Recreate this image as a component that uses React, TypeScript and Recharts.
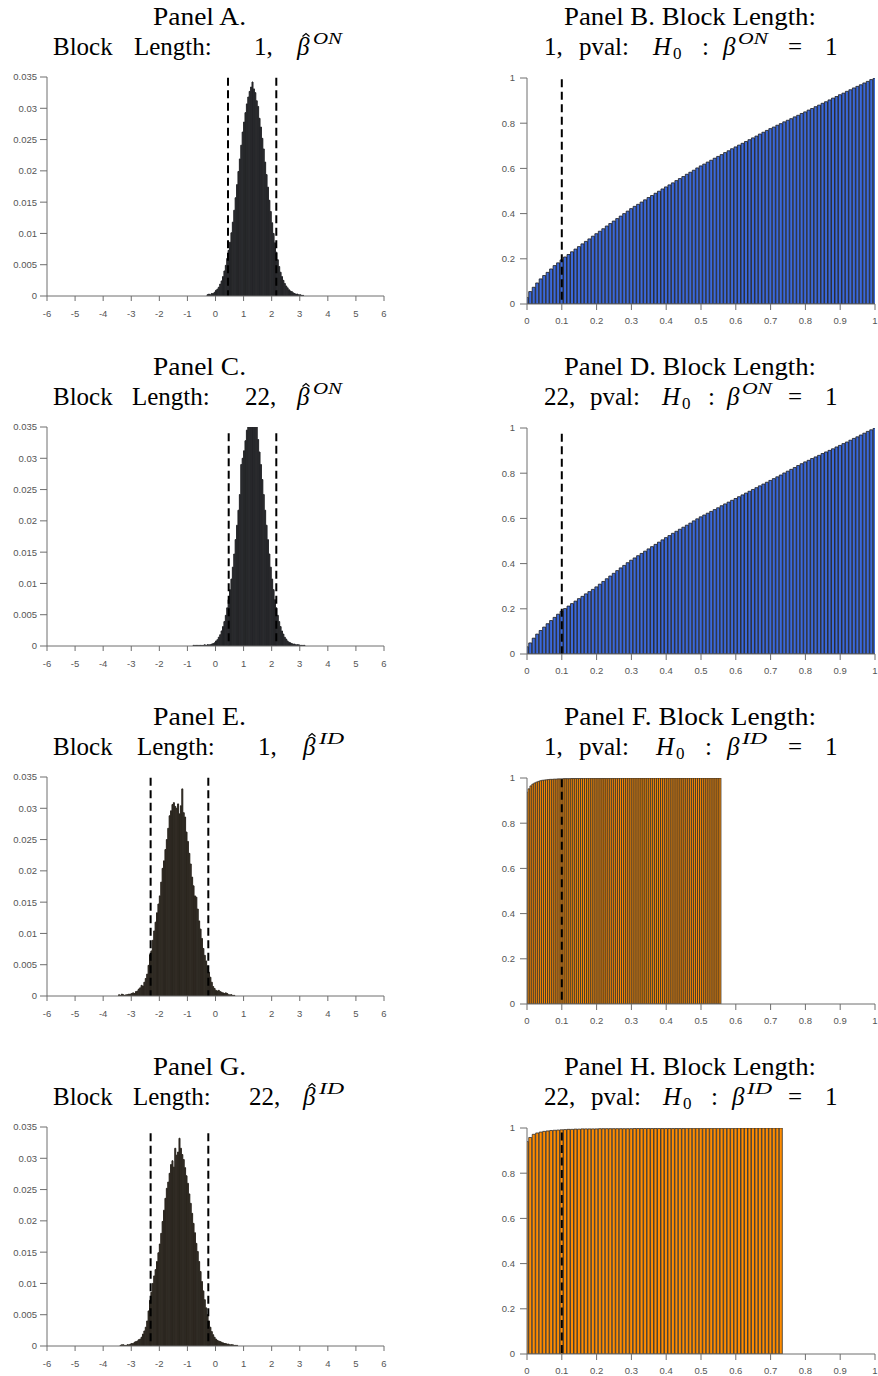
import React from 'react';
import { BarChart, Bar, XAxis, YAxis, ReferenceLine } from 'recharts';

// ---------- Histogram panels (A, C, E, G) ----------
const HIST_BIN = 0.05;
const A_START = -0.275;
const A_VALUES = [
  0.0002, 0.0003, 0.0002, 0.0004, 0.0004, 0.0006, 0.0009, 0.0011, 0.0014, 0.0019,
  0.0024, 0.0031, 0.0040, 0.0049, 0.0060, 0.0073, 0.0086, 0.0101, 0.0118, 0.0137,
  0.0157, 0.0178, 0.0199, 0.0219, 0.0241, 0.0262, 0.0278, 0.0293, 0.0307, 0.0318,
  0.0327, 0.0334, 0.0342, 0.0331, 0.0325, 0.0312, 0.0303, 0.0284, 0.0270, 0.0252,
  0.0235, 0.0214, 0.0194, 0.0174, 0.0153, 0.0135, 0.0117, 0.0100, 0.0085, 0.0070,
  0.0058, 0.0047, 0.0038, 0.0031, 0.0025, 0.0020, 0.0016, 0.0013, 0.0010, 0.0008,
  0.0007, 0.0005, 0.0004, 0.0003, 0.0003, 0.0002, 0.0002, 0.0001, 0.0001,
];
const C_START = -0.775;
const C_VALUES = [
  0.0001, 0.0001, 0.0001, 0.0001, 0.0001, 0.0001, 0.0001, 0.0001, 0.0002, 0.0001,
  0.0002, 0.0002, 0.0002, 0.0003, 0.0004, 0.0005, 0.0008, 0.0010, 0.0014, 0.0018,
  0.0024, 0.0031, 0.0039, 0.0049, 0.0061, 0.0074, 0.0090, 0.0107, 0.0126, 0.0147,
  0.0170, 0.0193, 0.0217, 0.0242, 0.0290, 0.0300, 0.0312, 0.0328, 0.0345, 0.0356,
  0.0366, 0.0370, 0.0372, 0.0365, 0.0358, 0.0352, 0.0330, 0.0310, 0.0290, 0.0266,
  0.0242, 0.0217, 0.0193, 0.0170, 0.0147, 0.0126, 0.0107, 0.0090, 0.0074, 0.0061,
  0.0049, 0.0039, 0.0031, 0.0024, 0.0019, 0.0014, 0.0011, 0.0008, 0.0006, 0.0005,
  0.0004, 0.0003, 0.0003, 0.0002, 0.0002, 0.0002, 0.0001, 0.0001, 0.0001, 0.0001,
];
const E_START = -3.425;
const E_VALUES = [
  0.0002, 0.0001, 0.0003, 0.0002, 0.0001, 0.0002, 0.0002, 0.0003, 0.0003, 0.0004,
  0.0005, 0.0004, 0.0007, 0.0008, 0.0011, 0.0013, 0.0017, 0.0016, 0.0022, 0.0028,
  0.0035, 0.0049, 0.0066, 0.0072, 0.0089, 0.0104, 0.0118, 0.0133, 0.0147, 0.0160,
  0.0182, 0.0204, 0.0216, 0.0234, 0.0250, 0.0268, 0.0288, 0.0296, 0.0306, 0.0309,
  0.0303, 0.0300, 0.0307, 0.0291, 0.0304, 0.0331, 0.0293, 0.0286, 0.0262, 0.0247,
  0.0228, 0.0211, 0.0190, 0.0176, 0.0160, 0.0158, 0.0139, 0.0120, 0.0107, 0.0092,
  0.0076, 0.0065, 0.0056, 0.0048, 0.0038, 0.0030, 0.0022, 0.0015, 0.0012, 0.0009,
  0.0008, 0.0009, 0.0007, 0.0006, 0.0005, 0.0004, 0.0005, 0.0004, 0.0002, 0.0002,
  0.0002, 0.0001, 0.0001,
];
const G_START = -3.375;
const G_VALUES = [
  0.0001, 0.0002, 0.0002, 0.0001, 0.0001, 0.0002, 0.0002, 0.0003, 0.0004, 0.0004,
  0.0006, 0.0007, 0.0008, 0.0010, 0.0011, 0.0014, 0.0019, 0.0024, 0.0030, 0.0040,
  0.0056, 0.0073, 0.0086, 0.0100, 0.0112, 0.0122, 0.0135, 0.0149, 0.0163, 0.0180,
  0.0199, 0.0217, 0.0236, 0.0252, 0.0262, 0.0276, 0.0290, 0.0296, 0.0286, 0.0316,
  0.0305, 0.0310, 0.0332, 0.0316, 0.0306, 0.0298, 0.0285, 0.0272, 0.0260, 0.0243,
  0.0228, 0.0212, 0.0196, 0.0181, 0.0164, 0.0151, 0.0135, 0.0119, 0.0103, 0.0088,
  0.0074, 0.0061, 0.0050, 0.0040, 0.0030, 0.0023, 0.0018, 0.0014, 0.0011, 0.0009,
  0.0008, 0.0007, 0.0006, 0.0005, 0.0004, 0.0004, 0.0003, 0.0003, 0.0002, 0.0002,
  0.0002, 0.0001, 0.0001, 0.0001,
];
// dashed interval bounds and the height the dashed lines reach
const A_CI = [0.445, 2.165];
const C_CI = [0.47, 2.165];
const E_CI = [-2.31, -0.256];
const G_CI = [-2.31, -0.256];
const A_CI_TOP = 0.0349;
const C_CI_TOP = 0.034;
const E_CI_TOP = 0.0349;
const G_CI_TOP = 0.034;

// ---------- p-value panels (B, D, F, H) ----------
const B_STEP = 0.01;
const B_VALUES = [
  0.029, 0.055, 0.074, 0.093, 0.111, 0.126, 0.140, 0.155, 0.170, 0.182,
  0.195, 0.208, 0.219, 0.231, 0.243, 0.254, 0.266, 0.277, 0.288, 0.300,
  0.311, 0.322, 0.333, 0.345, 0.356, 0.367, 0.378, 0.389, 0.400, 0.411,
  0.422, 0.432, 0.441, 0.451, 0.461, 0.471, 0.480, 0.490, 0.499, 0.509,
  0.518, 0.527, 0.536, 0.546, 0.555, 0.564, 0.574, 0.583, 0.592, 0.602,
  0.611, 0.619, 0.628, 0.636, 0.645, 0.653, 0.661, 0.670, 0.678, 0.687,
  0.695, 0.703, 0.711, 0.719, 0.727, 0.735, 0.743, 0.752, 0.760, 0.768,
  0.776, 0.783, 0.791, 0.798, 0.806, 0.813, 0.820, 0.828, 0.835, 0.843,
  0.850, 0.858, 0.865, 0.873, 0.880, 0.888, 0.895, 0.903, 0.911, 0.918,
  0.926, 0.933, 0.941, 0.948, 0.956, 0.963, 0.970, 0.978, 0.985, 0.993,
  1.000,
];
const D_STEP = 0.01;
const D_VALUES = [
  0.032, 0.049, 0.070, 0.088, 0.104, 0.119, 0.134, 0.148, 0.162, 0.176,
  0.189, 0.201, 0.212, 0.223, 0.234, 0.245, 0.255, 0.266, 0.276, 0.286,
  0.297, 0.309, 0.321, 0.333, 0.345, 0.357, 0.369, 0.381, 0.392, 0.404,
  0.415, 0.425, 0.435, 0.445, 0.455, 0.465, 0.475, 0.485, 0.495, 0.505,
  0.515, 0.524, 0.534, 0.543, 0.552, 0.561, 0.570, 0.579, 0.589, 0.598,
  0.607, 0.615, 0.623, 0.631, 0.639, 0.647, 0.656, 0.664, 0.672, 0.680,
  0.688, 0.696, 0.704, 0.712, 0.720, 0.728, 0.736, 0.744, 0.752, 0.760,
  0.768, 0.776, 0.784, 0.792, 0.801, 0.809, 0.817, 0.825, 0.834, 0.842,
  0.850, 0.857, 0.865, 0.872, 0.879, 0.887, 0.894, 0.901, 0.908, 0.916,
  0.923, 0.931, 0.938, 0.946, 0.954, 0.961, 0.969, 0.977, 0.985, 0.992,
  1.000,
];
const F_STEP = 0.0056;
const F_VALUES = [
  0.937, 0.952, 0.965, 0.973, 0.978, 0.982, 0.985, 0.988, 0.990, 0.991,
  0.992, 0.993, 0.994, 0.994, 0.995, 0.995, 0.996, 0.996, 0.996, 0.997,
  0.997, 0.997, 0.997, 0.998, 0.998, 0.998, 0.998, 0.998, 0.998, 0.999,
  0.999, 0.999, 0.999, 0.999, 0.999, 0.999, 0.999, 0.999, 0.999, 0.999,
  0.999, 0.999, 0.999, 0.999, 0.999, 0.999, 0.999, 0.999, 0.999, 0.999,
  1.000, 1.000, 1.000, 1.000, 1.000, 1.000, 1.000, 1.000, 1.000, 1.000,
  1.000, 1.000, 1.000, 1.000, 1.000, 1.000, 1.000, 1.000, 1.000, 1.000,
  1.000, 1.000, 1.000, 1.000, 1.000, 1.000, 1.000, 1.000, 1.000, 1.000,
  1.000, 1.000, 1.000, 1.000, 1.000, 1.000, 1.000, 1.000, 1.000, 1.000,
  1.000, 1.000, 1.000, 1.000, 1.000, 1.000, 1.000, 1.000, 1.000, 1.000,
];
const H_STEP = 0.01;
const H_VALUES = [
  0.940, 0.958, 0.972, 0.978, 0.982, 0.985, 0.987, 0.989, 0.990, 0.991,
  0.992, 0.993, 0.994, 0.994, 0.995, 0.995, 0.996, 0.996, 0.996, 0.996,
  0.996, 0.997, 0.997, 0.997, 0.997, 0.997, 0.997, 0.997, 0.997, 0.997,
  0.997, 0.998, 0.998, 0.998, 0.998, 0.998, 0.998, 0.998, 0.998, 0.998,
  0.998, 0.998, 0.998, 0.998, 0.998, 0.998, 0.999, 0.999, 0.999, 0.999,
  0.999, 0.999, 0.999, 0.999, 0.999, 0.999, 0.999, 0.999, 0.999, 0.999,
  0.999, 1.000, 1.000, 1.000, 1.000, 1.000, 1.000, 1.000, 1.000, 1.000,
  1.000, 1.000, 1.000, 1.000,
];
const PVAL_LINE = 0.1;
const B_LINE_TOP = 0.995;
const D_LINE_TOP = 0.975;
const F_LINE_TOP = 0.995;
const H_LINE_TOP = 0.98;

// ---------- ticks ----------
const HIST_X_TICKS = [-6, -5, -4, -3, -2, -1, 0, 1, 2, 3, 4, 5, 6];
const HIST_Y_TICKS = [0, 0.005, 0.01, 0.015, 0.02, 0.025, 0.03, 0.035];
const PV_X_TICKS = [0, 0.1, 0.2, 0.3, 0.4, 0.5, 0.6, 0.7, 0.8, 0.9, 1];
const PV_Y_TICKS = [0, 0.2, 0.4, 0.6, 0.8, 1];

// ---------- styles ----------
const AXIS = '#6e6e6e';
const TICK_FILL = '#555555';
const SANS = "'Liberation Sans', Arial, sans-serif";
const SERIF = "'Liberation Serif', 'Times New Roman', serif";
const ON_DARK = '#242528';
const ID_DARK = '#2b261f';
const BLUE = '#3b68d9';
const ORANGE = '#ff8c00';

const histData = (start: number, vals: number[]) =>
  vals.map((y, i) => ({ x: +(start + i * HIST_BIN).toFixed(4), y }));
const pvData = (step: number, vals: number[]) =>
  vals.map((y, i) => ({ x: +(i * step).toFixed(4), y }));

const tickStyle = { fill: TICK_FILL, fontSize: 9.5, fontFamily: SANS };

function HistPanel({ data, fill, ci, ciTop, top }: any) {
  return (
    <div style={{ position: 'absolute', left: 0, top, width: 440, height: 260 }}>
      <BarChart
        width={440}
        height={260}
        data={data}
        margin={{ top: 17, right: 56, bottom: 0, left: 0 }}
        barCategoryGap={0}
        barGap={0}
      >
        <XAxis
          type="number"
          dataKey="x"
          domain={[-6, 6]}
          ticks={HIST_X_TICKS}
          allowDataOverflow
          interval={0}
          height={24}
          tickSize={5}
          tickMargin={9}
          stroke={AXIS}
          tick={tickStyle}
        />
        <YAxis
          type="number"
          domain={[0, 0.035]}
          ticks={HIST_Y_TICKS}
          allowDataOverflow
          interval={0}
          width={47}
          tickSize={7}
          tickMargin={3}
          stroke={AXIS}
          tick={tickStyle}
        />
        <Bar dataKey="y" fill={fill} stroke={fill} strokeWidth={1} isAnimationActive={false} />
        {ci.map((v: number) => (
          <ReferenceLine
            key={v}
            segment={[{ x: v, y: ciTop }, { x: v, y: 0 }]}
            stroke="#000"
            strokeWidth={2}
            strokeDasharray="8 4.5"
          />
        ))}
      </BarChart>
    </div>
  );
}

function PvalPanel({ data, fill, stroke, lineTop, top }: any) {
  return (
    <div style={{ position: 'absolute', left: 440, top, width: 438, height: 270 }}>
      <BarChart
        width={438}
        height={270}
        data={data}
        margin={{ top: 18, right: 3, bottom: 0, left: 0 }}
        barCategoryGap={0}
        barGap={0}
      >
        <XAxis
          type="number"
          dataKey="x"
          domain={[0, 1]}
          ticks={PV_X_TICKS}
          allowDataOverflow
          interval={0}
          height={26}
          tickSize={6}
          tickMargin={7}
          stroke={AXIS}
          tick={tickStyle}
        />
        <YAxis
          type="number"
          domain={[0, 1]}
          ticks={PV_Y_TICKS}
          allowDataOverflow
          interval={0}
          width={87}
          tickSize={7}
          tickMargin={5}
          stroke={AXIS}
          tick={tickStyle}
        />
        <Bar dataKey="y" fill={fill} stroke={stroke} strokeWidth={0.8} isAnimationActive={false} />
        <ReferenceLine
          segment={[{ x: PVAL_LINE, y: lineTop }, { x: PVAL_LINE, y: 0 }]}
          stroke="#000"
          strokeWidth={2}
          strokeDasharray="8 4.5"
        />
      </BarChart>
    </div>
  );
}

function T({ x, y, size = 25, italic = false, anchor = 'start', len, children }: any) {
  return (
    <text
      x={x}
      y={y}
      fontSize={size}
      fontStyle={italic ? 'italic' : 'normal'}
      textAnchor={anchor}
      textLength={len}
      lengthAdjust={len ? 'spacingAndGlyphs' : undefined}
      fill="#000"
    >
      {children}
    </text>
  );
}

function Hat({ x, y }: any) {
  return (
    <path
      d={`M ${x - 3.5} ${y + 3} L ${x} ${y} L ${x + 3.5} ${y + 3}`}
      fill="none"
      stroke="#000"
      strokeWidth={1.2}
      strokeLinejoin="miter"
    />
  );
}

function LeftTitle({ off, letter, block, blockX, lenX, betaX, sup }: any) {
  return (
    <g>
      <T x={199.5} y={25 + off} anchor="middle" len={93}>{`Panel ${letter}.`}</T>
      <T x={53} y={55 + off}>Block</T>
      <T x={lenX} y={55 + off}>Length:</T>
      <T x={blockX} y={55 + off}>{`${block},`}</T>
      <T x={betaX} y={55 + off} italic>{'\u03B2'}</T>
      <Hat x={betaX + 9} y={33.5 + off} />
      <T x={betaX + 16} y={43.5 + off} size={16} italic len={sup === 'ON' ? 29 : 25}>{sup}</T>
    </g>
  );
}

function RightTitle({ off, letter, block, pvalX, hX, colonX, betaX, sup }: any) {
  return (
    <g>
      <T x={690} y={25 + off} anchor="middle" len={252}>{`Panel ${letter}. Block Length:`}</T>
      <T x={544} y={55 + off}>{`${block},`}</T>
      <T x={pvalX} y={55 + off}>pval:</T>
      <T x={hX} y={55 + off} italic>H</T>
      <T x={hX + 20} y={59 + off} size={17}>0</T>
      <T x={colonX} y={55 + off}>:</T>
      <T x={betaX} y={55 + off} italic>{'\u03B2'}</T>
      <T x={betaX + 15} y={43.5 + off} size={16} italic len={sup === 'ON' ? 30 : 25}>{sup}</T>
      <T x={788} y={55 + off}>=</T>
      <T x={825} y={55 + off}>1</T>
    </g>
  );
}

function Titles() {
  return (
    <svg
      width={878}
      height={1376}
      style={{ position: 'absolute', left: 0, top: 0, pointerEvents: 'none' }}
      fontFamily={SERIF}
    >
      <LeftTitle off={0} letter="A" block="1" lenX={134} blockX={254} betaX={297} sup="ON" />
      <LeftTitle off={350} letter="C" block="22" lenX={132} blockX={245} betaX={297} sup="ON" />
      <LeftTitle off={700} letter="E" block="1" lenX={137} blockX={258} betaX={303} sup="ID" />
      <LeftTitle off={1050} letter="G" block="22" lenX={133} blockX={249} betaX={303} sup="ID" />
      <RightTitle off={0} letter="B" block="1" pvalX={579} hX={653} colonX={702} betaX={723} sup="ON" />
      <RightTitle off={350} letter="D" block="22" pvalX={590} hX={662} colonX={708} betaX={727} sup="ON" />
      <RightTitle off={700} letter="F" block="1" pvalX={579} hX={656} colonX={705} betaX={727} sup="ID" />
      <RightTitle off={1050} letter="H" block="22" pvalX={591} hX={663} colonX={711} betaX={732} sup="ID" />
    </svg>
  );
}

export default function App() {
  return (
    <div style={{ position: 'absolute', left: 0, top: 0, width: 878, height: 1376, background: '#fff', overflow: 'hidden' }}>
      <HistPanel data={histData(A_START, A_VALUES)} fill={ON_DARK} ci={A_CI} ciTop={A_CI_TOP} top={60} />
      <HistPanel data={histData(C_START, C_VALUES)} fill={ON_DARK} ci={C_CI} ciTop={C_CI_TOP} top={410} />
      <HistPanel data={histData(E_START, E_VALUES)} fill={ID_DARK} ci={E_CI} ciTop={E_CI_TOP} top={760} />
      <HistPanel data={histData(G_START, G_VALUES)} fill={ID_DARK} ci={G_CI} ciTop={G_CI_TOP} top={1110} />
      <PvalPanel data={pvData(B_STEP, B_VALUES)} fill={BLUE} stroke="#1c1c1c" lineTop={B_LINE_TOP} top={60} />
      <PvalPanel data={pvData(D_STEP, D_VALUES)} fill={BLUE} stroke="#1c1c1c" lineTop={D_LINE_TOP} top={410} />
      <PvalPanel data={pvData(F_STEP, F_VALUES)} fill={ORANGE} stroke="#2e2e2e" lineTop={F_LINE_TOP} top={760} />
      <PvalPanel data={pvData(H_STEP, H_VALUES)} fill={ORANGE} stroke="#2e2e2e" lineTop={H_LINE_TOP} top={1110} />
      <Titles />
    </div>
  );
}
